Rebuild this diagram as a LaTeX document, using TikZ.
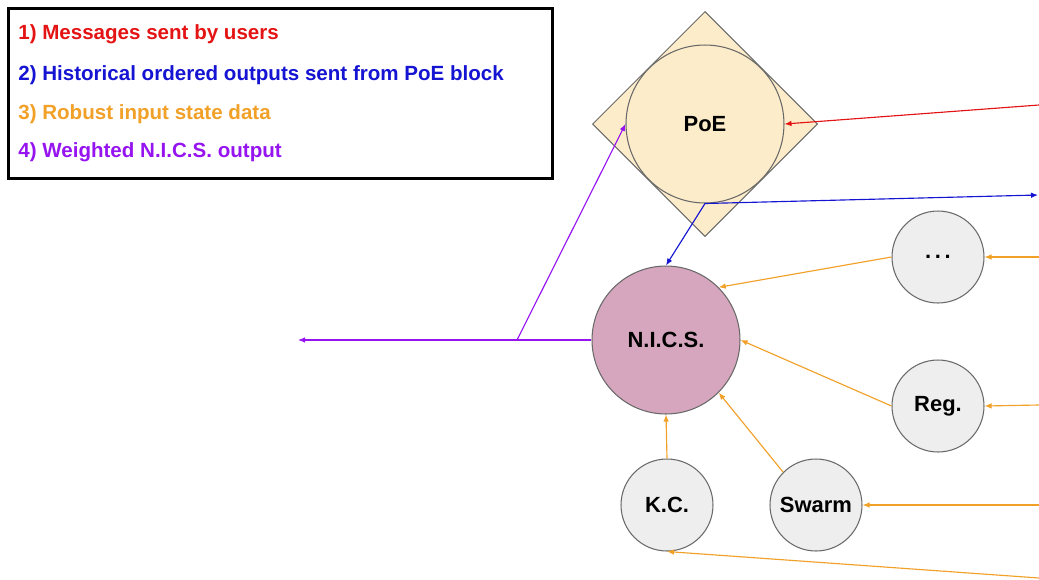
\documentclass[tikz,border=0pt]{standalone}
\usepackage{fontspec}
\setmainfont{Liberation Sans}
\usepackage{xcolor}
\usetikzlibrary{
  positioning,
  arrows.meta,
  shapes.geometric
}

\definecolor{msgred}{RGB}{228,20,20}
\definecolor{histblue}{RGB}{20,20,210}
\definecolor{robustorange}{RGB}{241,160,40}
\definecolor{nicspurple}{RGB}{150,20,240}
\definecolor{edgegray}{RGB}{105,105,105}
\definecolor{poefill}{RGB}{252,236,201}
\definecolor{nicsfill}{RGB}{213,166,189}
\definecolor{blockfill}{RGB}{238,238,238}

\begin{document}
\begin{tikzpicture}[
  x=0.02cm, y=-0.02cm,
  legend/.style={
    anchor=base west,
    inner sep=0pt,
    font=\fontsize{11.7}{13}\selectfont\bfseries
  },
  poebox/.style={
    diamond,
    draw=edgegray,
    fill=poefill,
    line width=0.6pt,
    inner sep=0pt,
    minimum width=4.5cm,
    minimum height=4.5cm
  },
  block/.style={
    circle,
    draw=edgegray,
    fill=blockfill,
    line width=0.6pt,
    inner sep=0pt,
    minimum size=1.84cm,
    font=\fontsize{12.5}{14}\selectfont\bfseries
  },
  flow/.style={
    -{Latex[length=4pt,width=3.2pt]},
    line width=0.65pt
  }
]
\useasboundingbox (0,0) rectangle (1039,579);

% Legend
\node[draw=black, line width=1.7pt, minimum width=10.9cm, minimum height=3.42cm] (legendbox) at (280.5,93.5) {};
\node[legend, text=msgred] (leg1) at (18,39) {1) Messages sent by users};
\node[legend, text=histblue] (leg2) at (18,80) {2) Historical ordered outputs sent from PoE block};
\node[legend, text=robustorange] (leg3) at (18,119) {3) Robust input state data};
\node[legend, text=nicspurple] (leg4) at (18,157) {4) Weighted N.I.C.S. output};

% PoE block
\node[poebox] (poebg) at (705,124) {};
\node[block, fill=poefill, minimum size=3.16cm] (poe) at (705,124) {PoE};

% N.I.C.S. and its inputs
\node[block, fill=nicsfill, minimum size=2.96cm] (nics) at (666,340) {N.I.C.S.};
\node[block] (dots) at (938,257) {.\,.\,.};
\node[block] (reg) at (938,406) {Reg.};
\node[block] (kc) at (667,505) {K.C.};
\node[block] (swarm) at (816,505) {Swarm};

% Free ends
\coordinate (usermsg) at (1039,105);
\coordinate (histout) at (1038,195);
\coordinate (indots) at (1039,257);
\coordinate (inreg) at (1039,405);
\coordinate (inswarm) at (1039,505);
\coordinate (inkc) at (1039,578);
\coordinate (split) at (517,340);
\coordinate (nicsout) at (298,340);

% 1) Messages
\draw[flow, msgred] (usermsg) -- (poe.east);

% 2) Historical outputs
\draw[flow, histblue] (poe.south) -- (histout);
\draw[flow, histblue] (poe.south) -- (nics.north);

% 3) Robust input state data
\draw[flow, robustorange] (indots) -- (dots.east);
\draw[flow, robustorange] (inreg) -- (reg.east);
\draw[flow, robustorange] (inswarm) -- (swarm.east);
\draw[flow, robustorange] (inkc) -- (kc.south);
\draw[flow, robustorange] (dots.west) -- (nics.45);
\draw[flow, robustorange] (reg.west) -- (nics.east);
\draw[flow, robustorange] (swarm.135) -- (nics.-45);
\draw[flow, robustorange] (kc.north) -- (nics.south);

% 4) Weighted output
\draw[flow, nicspurple] (nics.west) -- (nicsout);
\draw[flow, nicspurple] (split) -- (poe.west);

\end{tikzpicture}
\end{document}
